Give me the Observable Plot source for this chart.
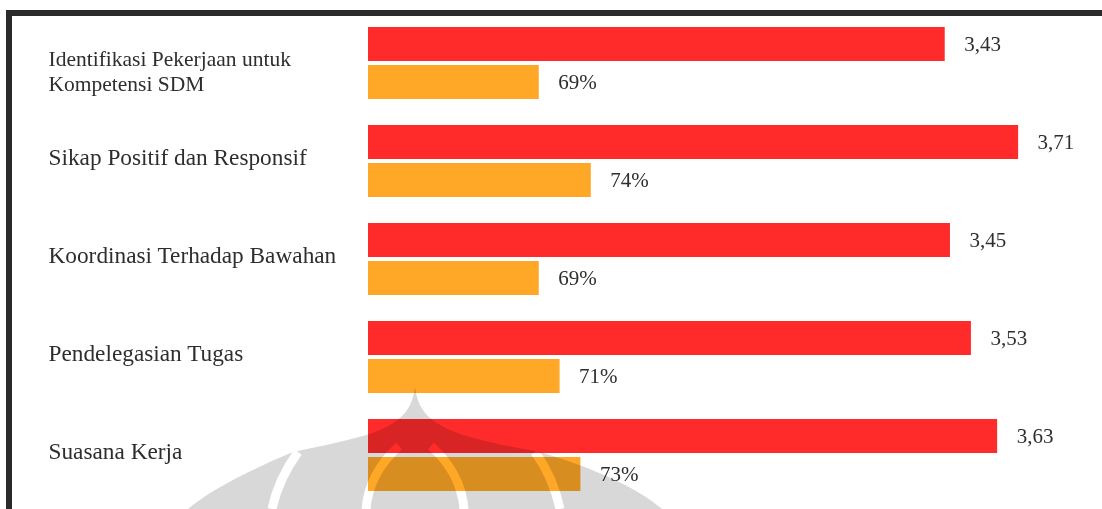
<!DOCTYPE html>
<html><head><meta charset="utf-8">
<script src="https://cdn.jsdelivr.net/npm/d3@7"></script>
<script src="https://cdn.jsdelivr.net/npm/@observablehq/plot@0.6"></script>
<style>
body{margin:0;background:#fff;}
#wrap{position:relative;width:1102px;height:509px;overflow:hidden;background:#fff;}
#frame{position:absolute;left:6px;top:10px;width:1200px;height:600px;border-top:6px solid #2b2b2b;border-left:6px solid #2b2b2b;}
.layer{position:absolute;left:0;top:0;}
#wm{position:absolute;left:0;top:0;mix-blend-mode:multiply;}
</style></head><body>
<div id="wrap">
<div id="frame"></div>
<div id="a" class="layer"></div>
<div id="b" class="layer"></div>
<svg id="wm" width="1102" height="509">
  <path d="M415,387 C418,410 428,422 460,434 C500,446 525,449 540,452 C600,470 640,490 662,509 L188,509 C210,490 250,470 293,452 C310,448 335,444 370,434 C402,422 412,410 415,387 Z" fill="#d8d8d8"/>
  <g fill="none" stroke="#fff" stroke-width="9">
    <path d="M399,446 C378,465 368,485 366,509"/>
    <path d="M431,446 C452,465 462,485 464,509"/>
    <path d="M298,452 C285,470 276,490 272,509"/>
    <path d="M535,452 C548,470 556,490 560,509"/>
  </g>
</svg>
</div>
<script>
const categories = [
  "Identifikasi Pekerjaan untuk\nKompetensi SDM",
  "Sikap Positif dan Responsif",
  "Koordinasi Terhadap Bawahan",
  "Pendelegasian Tugas",
  "Suasana Kerja"
];
const skor = [3.43, 3.71, 3.45, 3.53, 3.63];
const persen = [69, 74, 69, 71, 73];
const series = ["skor", "persen"];

const rowsSkor = categories.map((c, i) => ({cat: c, s: "skor", v: skor[i], label: String(skor[i].toFixed(2)).replace(".", ",")}));
const rowsPersen = categories.map((c, i) => ({cat: c, s: "persen", v: persen[i], label: persen[i] + "%"}));

const common = (xdomain) => ({
  width: 1102, height: 509,
  marginLeft: 368, marginRight: 0, marginTop: 25, marginBottom: 16,
  x: {domain: xdomain, clamp: true, axis: null},
  y: {domain: series, axis: null, paddingInner: 0.1, paddingOuter: 0},
  fy: {domain: categories, axis: null, paddingInner: 0.24, paddingOuter: 0},
  style: {fontFamily: "'Liberation Serif', serif", background: "transparent", overflow: "visible", color: "#2e2e2e"}
});

const textColor = "#2e2e2e";

const plotA = Plot.plot({
  ...common([1.23, 4.03]),
  marks: [
    Plot.barX(rowsSkor, {x1: 0, x2: "v", y: "s", fy: "cat", fill: "#ff2a2a"}),
    Plot.text(rowsSkor, {x: "v", y: "s", fy: "cat", text: "label", dx: 19, textAnchor: "start", fontSize: 21, fill: textColor}),
    Plot.text(categories.slice(0, 1), {fy: d => d, text: d => d, frameAnchor: "left", dx: -320, dy: 7, textAnchor: "start", lineHeight: 1.15, fontSize: 21.5, fill: textColor}),
    Plot.text(categories.slice(1), {fy: d => d, text: d => d, frameAnchor: "left", dx: -320, dy: -4, textAnchor: "start", fontSize: 23.3, fill: textColor})
  ]
});
document.getElementById("a").appendChild(plotA);

const plotB = Plot.plot({
  ...common([52.6, 123.1]),
  marks: [
    Plot.barX(rowsPersen, {x1: 0, x2: "v", y: "s", fy: "cat", fill: "#ffa726"}),
    Plot.text(rowsPersen, {x: "v", y: "s", fy: "cat", text: "label", dx: 19, textAnchor: "start", fontSize: 21, fill: textColor})
  ]
});
document.getElementById("b").appendChild(plotB);
</script>
</body></html>
